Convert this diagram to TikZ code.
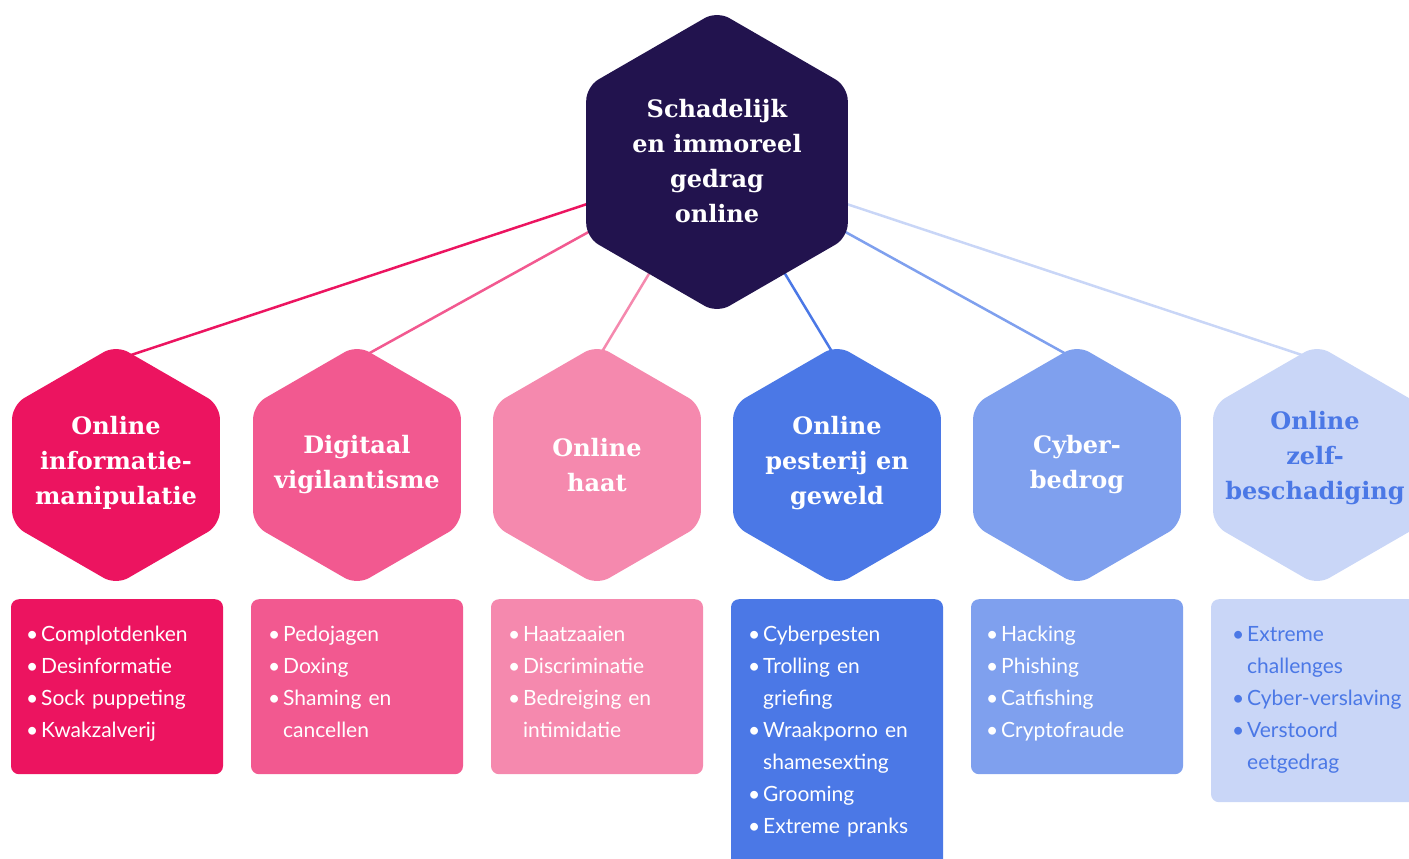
\documentclass[tikz,border=0pt]{standalone}
\usepackage{fontspec}
\setmainfont{Lato}
\newfontfamily\slab{DejaVu Serif}
\usetikzlibrary{backgrounds}
\definecolor{cnavy}{RGB}{34,19,78}
\definecolor{cone}{RGB}{236,20,96}
\definecolor{ctwo}{RGB}{242,89,144}
\definecolor{cthree}{RGB}{245,137,174}
\definecolor{cfour}{RGB}{75,120,230}
\definecolor{cfive}{RGB}{127,160,238}
\definecolor{csix}{RGB}{201,214,247}
\newcommand\itm[1]{\par\hangindent=15pt\hangafter=1\noindent\makebox[15pt][l]{\textbullet}#1\par}
\tikzset{
  pics/hexa/.style args={#1/#2}{code={\fill[#2, rounded corners=14pt] (90:#1) -- (30:#1) -- (-30:#1) -- (-90:#1) -- (-150:#1) -- (150:#1) -- cycle;}},
  title/.style={font=\slab\bfseries\fontsize{24}{35}\selectfont, align=center, text=white, inner sep=0pt},
  listbox/.style={rounded corners=8pt, minimum width=212pt, anchor=north, inner sep=0pt},
  listtext/.style={font=\fontsize{21}{32}\selectfont, text width=250pt, anchor=north west, inner sep=0pt, text=white},
  conn/.style={line width=2.5pt}
}
\begin{document}
\begin{tikzpicture}[x=1pt,y=-1pt]
\useasboundingbox (0,0) rectangle (1409,859);
\clip (0,0) rectangle (1409,859);
% hexagons
\pic at (717,162) {hexa=151/cnavy};
\pic at (116,465) {hexa=120/cone};
\pic at (357,465) {hexa=120/ctwo};
\pic at (597,465) {hexa=120/cthree};
\pic at (837,465) {hexa=120/cfour};
\pic at (1077,465) {hexa=120/cfive};
\pic at (1317,465) {hexa=120/csix};
% titles
\node[title] (hub) at (717,161) {Schadelijk\\en immoreel\\gedrag\\online};
\node[title] (h1) at (116,463) {Online\\informatie-\\manipulatie};
\node[title] (h2) at (357,465) {Digitaal\\vigilantisme};
\node[title] (h3) at (597,465) {Online\\haat};
\node[title] (h4) at (837,463) {Online\\pesterij en\\geweld};
\node[title] (h5) at (1077,465) {Cyber-\\bedrog};
\node[title, text=cfour] (h6) at (1315,458) {Online\\zelf-\\beschadiging};
% connector ends
\coordinate (t1) at (116,360);
\coordinate (t2) at (357,360);
\coordinate (t3) at (597,360);
\coordinate (t4) at (837,360);
\coordinate (t5) at (1077,360);
\coordinate (t6) at (1317,360);
\begin{scope}[on background layer]
\draw[conn, cone] (hub.center) -- (t1);
\draw[conn, ctwo] (hub.center) -- (t2);
\draw[conn, cthree] (hub.center) -- (t3);
\draw[conn, cfour] (hub.center) -- (t4);
\draw[conn, cfive] (hub.center) -- (t5);
\draw[conn, csix] (hub.center) -- (t6);
\end{scope}
% list boxes
\node[listbox, fill=cone, minimum height=175pt] (b1) at (117,599) {};
\node[listbox, fill=ctwo, minimum height=175pt] (b2) at (357,599) {};
\node[listbox, fill=cthree, minimum height=175pt] (b3) at (597,599) {};
\node[listbox, fill=cfour, minimum height=290pt] (b4) at (837,599) {};
\node[listbox, fill=cfive, minimum height=175pt] (b5) at (1077,599) {};
\node[listbox, fill=csix, minimum height=203pt] (b6) at (1317,599) {};
\node[listtext] (l1) at (26,609) {\itm{Complotdenken}\itm{Desinformatie}\itm{Sock puppeting}\itm{Kwakzalverij}};
\node[listtext] (l2) at (268,609) {\itm{Pedojagen}\itm{Doxing}\itm{Shaming en\newline cancellen}};
\node[listtext] (l3) at (508,609) {\itm{Haatzaaien}\itm{Discriminatie}\itm{Bedreiging en\newline intimidatie}};
\node[listtext] (l4) at (748,609) {\itm{Cyberpesten}\itm{Trolling en\newline griefing}\itm{Wraakporno en\newline shamesexting}\itm{Grooming}\itm{Extreme pranks}};
\node[listtext] (l5) at (986,609) {\itm{Hacking}\itm{Phishing}\itm{Catfishing}\itm{Cryptofraude}};
\node[listtext, text=cfour] (l6) at (1232,609) {\itm{Extreme\newline challenges}\itm{Cyber-verslaving}\itm{Verstoord\newline eetgedrag}};
\end{tikzpicture}
\end{document}
